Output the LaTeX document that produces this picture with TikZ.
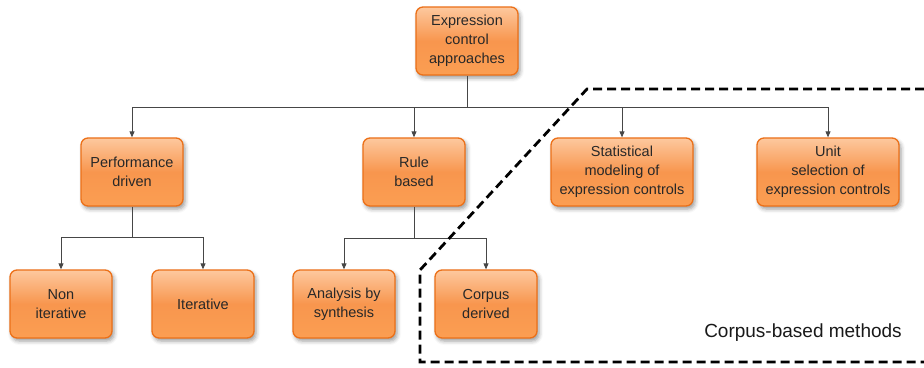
\documentclass[tikz,border=0pt]{standalone}
\usepackage{fontspec}
\setmainfont{Liberation Sans}
\usetikzlibrary{arrows.meta,shadows.blur}
\definecolor{boxtop}{RGB}{253,200,158}
\definecolor{boxmid}{RGB}{248,150,78}
\definecolor{boxbot}{RGB}{251,158,82}
\definecolor{boxline}{RGB}{236,112,24}
\definecolor{textgray}{RGB}{40,40,40}
\definecolor{linegray}{RGB}{70,70,70}
\begin{document}
\begin{tikzpicture}[
        x=1pt, y=-1pt,
        box/.style={draw=boxline, line width=1.3pt, rounded corners=7pt,
            top color=boxtop, bottom color=boxbot, middle color=boxmid,
            text=textgray, align=center, inner sep=2pt,
            minimum width=102pt, minimum height=68pt,
            font=\fontsize{14.5}{18.8}\selectfont,
            blur shadow={shadow xshift=2pt, shadow yshift=-3pt, shadow blur radius=4pt, shadow opacity=40}},
        wide/.style={box, minimum width=142pt},
        link/.style={draw=linegray, line width=0.8pt},
        arrow/.style={link, -{Triangle[length=6pt,width=5pt]}},
        region/.style={draw=black, line width=2.8pt, dash pattern=on 9pt off 5pt},
    ]
    \useasboundingbox (0,0) rectangle (924,367);
    \node[box] (root) at (467,41) {Expression\\control\\approaches};
    \node[box] (perf) at (132,172) {Performance\\driven};
    \node[box] (rule) at (414,172) {Rule\\based};
    \node[wide] (stat) at (622,172) {Statistical\\modeling of\\expression controls};
    \node[wide] (unit) at (828,172) {Unit\\selection of\\expression controls};
    \node[box] (noniter) at (61,304) {Non\\iterative};
    \node[box] (iter) at (203,304) {Iterative};
    \node[box] (abs) at (344,304) {Analysis by\\synthesis};
    \node[box] (corp) at (486,304) {Corpus\\derived};

    % branching points
    \coordinate (rootbar) at (467,107);
    \coordinate (perfbar) at (132,237);
    \coordinate (rulebar) at (414,238);
    \draw[link] (root) -- (rootbar);
    \foreach \n in {perf,rule,stat,unit}
        \draw[arrow] (rootbar) -| (\n);
    \draw[link] (perf) -- (perfbar);
    \foreach \n in {noniter,iter}
        \draw[arrow] (perfbar) -| (\n);
    \draw[link] (rule) -- (rulebar);
    \foreach \n in {abs,corp}
        \draw[arrow] (rulebar) -| (\n);

    % corpus-based region
    \draw[region] (924,89) -- (587,89) -- (420,270) -- (420,362) -- (924,362);
    \node[anchor=base, text=black!90, font=\fontsize{19}{22}\selectfont] (cbm) at (803,337) {Corpus-based methods};
\end{tikzpicture}
\end{document}
